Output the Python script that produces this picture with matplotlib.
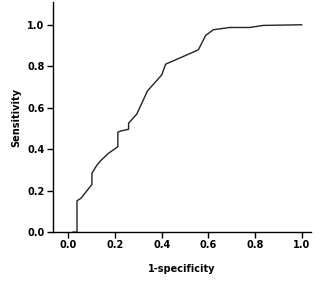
import matplotlib
matplotlib.use("Agg")
import matplotlib.pyplot as plt

# ROC curve points
fpr = [0.020, 0.037, 0.037, 0.054, 0.101, 0.101, 0.120, 0.137, 0.172, 0.212,
       0.212, 0.226, 0.258, 0.258, 0.293, 0.315, 0.339, 0.400, 0.417, 0.557,
       0.588, 0.621, 0.692, 0.778, 0.835, 1.000]
tpr = [0.000, 0.000, 0.151, 0.163, 0.230, 0.284, 0.319, 0.343, 0.380, 0.412,
       0.482, 0.488, 0.496, 0.525, 0.569, 0.622, 0.681, 0.758, 0.810, 0.879,
       0.948, 0.976, 0.987, 0.987, 0.997, 1.000]

ticks = [0.0, 0.2, 0.4, 0.6, 0.8, 1.0]

fig = plt.figure(figsize=(3.21, 2.82), dpi=100)
ax = fig.add_axes([0.165, 0.177, 0.804, 0.816])

ax.plot(fpr, tpr, color="#222222", linewidth=1.0)

ax.set_xlim(-0.066, 1.04)
ax.set_ylim(0.0, 1.11)
ax.set_xticks(ticks)
ax.set_yticks(ticks)
ax.set_xticklabels([f"{t:.1f}" for t in ticks], fontsize=7, fontweight="bold")
ax.set_yticklabels([f"{t:.1f}" for t in ticks], fontsize=7, fontweight="bold")
ax.tick_params(direction="out", length=4, width=1, pad=2)

for side in ("top", "right"):
    ax.spines[side].set_visible(False)
for side in ("left", "bottom"):
    ax.spines[side].set_linewidth(1.0)

ax.set_xlabel("1-specificity", fontsize=7, fontweight="bold", labelpad=10)
ax.set_ylabel("Sensitivity", fontsize=7, fontweight="bold", labelpad=4)

fig.savefig("out.png", dpi=100)
